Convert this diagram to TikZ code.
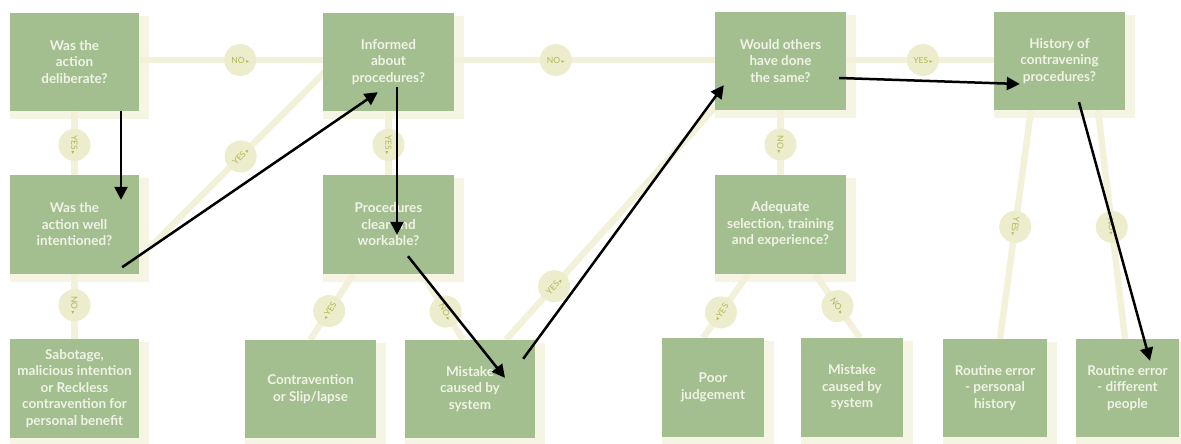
\documentclass[tikz,border=0pt]{standalone}
\usepackage{fontspec}
\setmainfont{Lato}
\newfontfamily\glyphfont{DejaVu Sans}
\usetikzlibrary{arrows.meta,calc}

\definecolor{boxgreen}{HTML}{A3BE8F}
\definecolor{boxtext}{HTML}{F0F3E6}
\definecolor{linkcream}{HTML}{F4F1DA}
\definecolor{shadecream}{HTML}{F6F4E2}
\definecolor{badgefill}{HTML}{EDECCD}
\definecolor{badgetext}{HTML}{AEBA52}

\pgfdeclarelayer{back}
\pgfsetlayers{back,main}

% small pointers used inside the yes/no badges
\newcommand\fwd{\,{\glyphfont\fontsize{6}{6}\selectfont ▸}}
\newcommand\bwd{{\glyphfont\fontsize{6}{6}\selectfont ◂}\,}

% question / outcome box: name, x0, y0, x1, y1, text
\newcommand\qbox[6]{%
  \node[qbox, minimum width={#4-#2}, minimum height={#5-#3}]
    (#1) at ({(#2+#4)/2},{(#3+#5)/2}) {#6};
  \begin{pgfonlayer}{back}
    \fill[shadecream] ($(#1.north west)+(0,3)$) rectangle ($(#1.south east)+(10,8)$);
  \end{pgfonlayer}}

\begin{document}
\begin{tikzpicture}[x=1pt,y=-1pt,
  qbox/.style={fill=boxgreen, text=boxtext, align=center, inner sep=0pt,
    font=\bfseries\fontsize{13.5}{16.5}\selectfont},
  link/.style={draw=linkcream, line width=6.5pt},
  badge/.style={circle, fill=badgefill, minimum size=32pt, inner sep=0pt,
    text=badgetext, font=\fontsize{8.5}{9}\selectfont},
  flow/.style={line width=2.5pt, -{Triangle[length=13pt,width=13pt]}}]

\useasboundingbox (0,0) rectangle (1181,444);

% boxes
\qbox{q1}{10}{13}{139}{111}{Was the\\action\\deliberate?}
\qbox{q2}{10}{175}{139}{274}{Was the\\action well\\intentioned?}
\qbox{q3}{10}{339}{139}{438}{Sabotage,\\malicious intention\\or Reckless\\contravention for\\personal benefit}
\qbox{q4}{323}{13}{454}{111}{Informed\\about\\procedures?}
\qbox{q5}{323}{175}{454}{274}{Procedures\\clear and\\workable?}
\qbox{q6}{245}{340}{376}{438}{Contravention\\or Slip/lapse}
\qbox{q7}{405}{340}{535}{438}{Mistake\\caused by\\system}
\qbox{q8}{715}{12}{846}{110}{Would others\\have done\\the same?}
\qbox{q9}{715}{175}{846}{274}{Adequate\\selection, training\\and experience?}
\qbox{q10}{662}{338}{764}{437}{Poor\\judgement}
\qbox{q11}{801}{338}{903}{437}{Mistake\\caused by\\system}
\qbox{q12}{994}{12}{1125}{110}{History of\\contravening\\procedures?}
\qbox{q13}{943}{339}{1047}{437}{Routine error\\- personal\\history}
\qbox{q14}{1076}{339}{1179}{437}{Routine error\\- different\\people}

% decision tree links with their yes/no badges
\begin{pgfonlayer}{back}
\draw[link] ($(q1.east)+(0,-2)$) -- node[badge,pos=0.55]{NO\fwd} ($(q4.west)+(0,-2)$);
\draw[link] ($(q4.east)+(0,-2)$) -- node[badge,pos=0.39]{NO\fwd} ($(q8.west)+(0,-1)$);
\draw[link] ($(q8.east)+(0,-1)$) -- node[badge,pos=0.52]{YES\fwd} ($(q12.west)+(0,-1)$);
\draw[link] (q1.south) -- node[badge,pos=0.53,rotate=-90]{YES\fwd} (q2.north);
\draw[link] (q2.south) -- node[badge,pos=0.48,rotate=-90]{NO\fwd} (q3.north);
\draw[link] ($(q2.south east)+(11,-27)$) -- node[badge,pos=0.49,rotate=45]{YES\fwd} ($(q4.west)+(12,0)$);
\draw[link] (q4.south) -- node[badge,pos=0.53,rotate=-90]{YES\fwd} (q5.north);
\draw[link] ($(q5.south)+(-35,0)$) -- node[badge,pos=0.56,rotate=57]{\bwd YES} ($(q6.north)+(-0.5,0)$);
\draw[link] ($(q5.south)+(34,0)$) -- node[badge,pos=0.57,rotate=-60]{NO\fwd} ($(q7.north)+(-7,0)$);
\draw[link] ($(q7.north)+(36,0)$) -- node[badge,pos=0.22,rotate=48]{YES\fwd} ($(q8.south west)+(10,-14)$);
\draw[link] (q8.south) -- node[badge,pos=0.53,rotate=-90]{NO\fwd} (q9.north);
\draw[link] ($(q9.south)+(-32.5,0)$) -- node[badge,pos=0.6,rotate=55]{\bwd YES} ($(q10.north)+(-10,0)$);
\draw[link] ($(q9.south)+(34.5,0)$) -- node[badge,pos=0.5,rotate=-55]{NO\fwd} ($(q11.north)+(8,0)$);
\draw[link] ($(q12.south)+(-28.5,0)$) -- node[badge,pos=0.51,rotate=-98]{YES\fwd} ($(q13.north)+(5,0)$);
\draw[link] ($(q12.south)+(38.5,0)$) -- node[badge,pos=0.51,rotate=-83]{NO\fwd} ($(q14.north)+(-2.5,0)$);
\end{pgfonlayer}

% traced path through the tree
\draw[flow] ($(q1.south)+(46.5,0)$) -- ($(q2.north)+(46.5,25)$);
\draw[flow] ($(q2.south east)+(-17,-7)$) -- ($(q4.south west)+(55,-19)$);
\draw[flow] ($(q4.south)+(8.5,-24)$) -- ($(q5.north)+(8.5,60)$);
\draw[flow] ($(q5.south)+(19.5,-18)$) -- ($(q7.north)+(35,38)$);
\draw[flow] ($(q7.north east)+(-12,19)$) -- ($(q8.south west)+(9,-25)$);
\draw[flow] ($(q8.east)+(-7,17)$) -- ($(q12.west)+(26,23)$);
\draw[flow] ($(q12.south)+(19.5,-8)$) -- ($(q14.north)+(22.5,22)$);
\end{tikzpicture}
\end{document}
